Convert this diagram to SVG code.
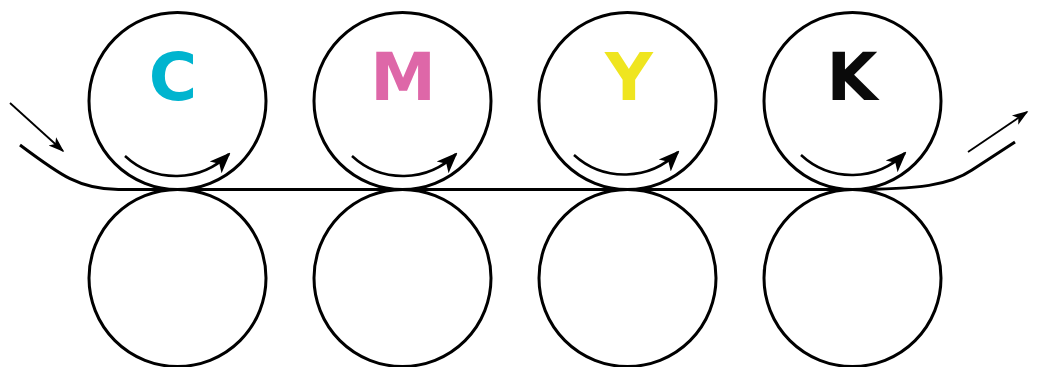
<svg xmlns="http://www.w3.org/2000/svg" width="1039" height="367" viewBox="0 0 1039 367">
<defs>
<style>
.roll{fill:none;stroke:#000;stroke-width:3}
.line{fill:none;stroke:#000;stroke-width:3}
.arr{fill:none;stroke:#000;stroke-width:2.5}
.thin{fill:none;stroke:#000;stroke-width:1.8}
.lbl{font-family:"DejaVu Sans",sans-serif;font-weight:bold;font-size:66px;text-anchor:middle}
</style>
<marker id="ah" viewBox="0 0 10 10" refX="9" refY="5" markerWidth="21" markerHeight="21" markerUnits="userSpaceOnUse" orient="auto">
<path d="M0,1 L10,5 L0,9 L2.5,5 z" fill="#000"/>
</marker>
<marker id="ah2" viewBox="0 0 10 10" refX="9" refY="5" markerWidth="16" markerHeight="16" markerUnits="userSpaceOnUse" orient="auto">
<path d="M0,1.5 L10,5 L0,8.5 L2.5,5 z" fill="#000"/>
</marker>
</defs>
<g id="roller-C">
<circle class="roll" cx="177.5" cy="101" r="88.5"/>
<circle class="roll" cx="177.5" cy="278" r="88.5"/>
<text class="lbl" x="173" y="100" fill="#00b4cf">C</text>
</g>
<g id="roller-M">
<circle class="roll" cx="402.5" cy="101" r="88.5"/>
<circle class="roll" cx="402.5" cy="278" r="88.5"/>
<text class="lbl" x="403" y="100" fill="#de67a8">M</text>
</g>
<g id="roller-Y">
<circle class="roll" cx="627.5" cy="101" r="88.5"/>
<circle class="roll" cx="627.5" cy="278" r="88.5"/>
<text class="lbl" x="629" y="100" fill="#efe51f">Y</text>
</g>
<g id="roller-K">
<circle class="roll" cx="852.5" cy="101" r="88.5"/>
<circle class="roll" cx="852.5" cy="278" r="88.5"/>
<text class="lbl" x="852" y="100" fill="#0a0a0a">K</text>
</g>
<g id="connectors">
<path class="line" d="M20,145 C60,175 80,190 120,189.5 L850,189.5 C920,189.5 950,185 972,170 L1015,142"/>
<path class="thin" d="M10,103 L63,151" marker-end="url(#ah2)"/>
<path class="thin" d="M968,152 L1027,112" marker-end="url(#ah2)"/>
<path class="arr" d="M125,156 A75,75 0 0 0 229,154" marker-end="url(#ah)"/>
<path class="arr" d="M352,156 A75,75 0 0 0 456,154" marker-end="url(#ah)"/>
<path class="arr" d="M574,155 A75,75 0 0 0 678,152" marker-end="url(#ah)"/>
<path class="arr" d="M801,155 A75,75 0 0 0 905,153" marker-end="url(#ah)"/>
</g>
</svg>
